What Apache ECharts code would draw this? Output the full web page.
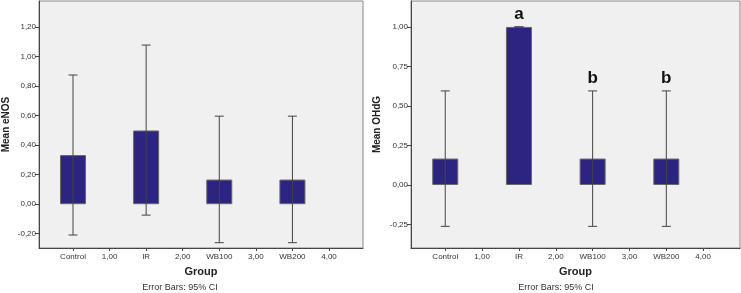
<!DOCTYPE html>
<html>
<head>
<meta charset="utf-8">
<script src="https://cdn.jsdelivr.net/npm/echarts@6/dist/echarts.min.js"></script>
<style>
  html, body { margin: 0; padding: 0; background: #fff; }
  #chart { width: 741px; height: 293px; }
</style>
</head>
<body>
<div id="chart"></div>
<script>
// x-axis labels, slots 0..7
var groupLabels = ['Control', '1,00', 'IR', '2,00', 'WB100', '3,00', 'WB200', '4,00'];
var barX = [0, 2, 4, 6];

// eNOS panel
var enosMean = [0.333, 0.50, 0.167, 0.167];
var enosLow = [-0.209, -0.074, -0.261, -0.261];
var enosHigh = [0.876, 1.079, 0.597, 0.597];
var enosTicks = [-0.2, 0, 0.2, 0.4, 0.6, 0.8, 1.0, 1.2];

// OHdG panel
var ohdgMean = [0.167, 1.0, 0.167, 0.167];
var ohdgLow = [-0.262, 1.0, -0.262, -0.262];
var ohdgHigh = [0.595, 1.0, 0.595, 0.595];
var ohdgLetters = ['', 'a', 'b', 'b'];
var ohdgTicks = [-0.25, 0, 0.25, 0.5, 0.75, 1.0];

var myChart = echarts.init(document.getElementById('chart'));

function fmt(v) {
    return v.toFixed(2).replace('.', ',');
}

function xAxisOpt(idx, max) {
    return {
        type: 'value',
        gridIndex: idx,
        min: -0.93,
        max: max,
        name: 'Group',
        nameLocation: 'middle',
        nameGap: 18,
        nameTextStyle: { fontFamily: 'Liberation Sans', fontWeight: 'bold', fontSize: 11, color: '#222' },
        splitLine: { show: false },
        axisLine: { show: true, onZero: false, lineStyle: { color: '#444', width: 1 } },
        axisTick: { show: true, length: 3, customValues: [0, 1, 2, 3, 4, 5, 6, 7], lineStyle: { color: '#444' } },
        axisLabel: {
            customValues: [0, 1, 2, 3, 4, 5, 6, 7],
            formatter: function (v) { return groupLabels[Math.round(v)]; },
            fontFamily: 'Liberation Sans', fontSize: 8, color: '#333', margin: 5
        }
    };
}

function yAxisOpt(idx, min, max, ticks, name, gap) {
    return {
        type: 'value',
        gridIndex: idx,
        min: min,
        max: max,
        name: name,
        nameLocation: 'middle',
        nameGap: gap,
        nameTextStyle: { fontFamily: 'Liberation Sans', fontWeight: 'bold', fontSize: 10, color: '#222' },
        splitLine: { show: false },
        axisLine: { show: true, onZero: false, lineStyle: { color: '#444', width: 1 } },
        axisTick: { show: true, length: 4, customValues: ticks, lineStyle: { color: '#444' } },
        axisLabel: {
            customValues: ticks,
            formatter: fmt,
            fontFamily: 'Liberation Sans', fontSize: 8, color: '#333', margin: 3
        }
    };
}

function barData(mean) {
    var d = [];
    for (let i = 0; i < mean.length; i++) {
        d.push([barX[i], mean[i]]);
    }
    return d;
}

function errData(low, high, letters) {
    var d = [];
    for (let i = 0; i < low.length; i++) {
        d.push([barX[i], low[i], high[i], letters ? letters[i] : '']);
    }
    return d;
}

function renderErr(params, api) {
    var x = api.value(0);
    var lo = api.coord([x, api.value(1)]);
    var hi = api.coord([x, api.value(2)]);
    var cap = 4.5;
    var style = { stroke: '#444', lineWidth: 1 };
    var children = [
        { type: 'line', shape: { x1: lo[0], y1: lo[1], x2: hi[0], y2: hi[1] }, style: style },
        { type: 'line', shape: { x1: lo[0] - cap, y1: lo[1], x2: lo[0] + cap, y2: lo[1] }, style: style },
        { type: 'line', shape: { x1: hi[0] - cap, y1: hi[1], x2: hi[0] + cap, y2: hi[1] }, style: style }
    ];
    var letter = api.value(3);
    if (letter) {
        children.push({
            type: 'text',
            style: {
                text: letter, x: hi[0], y: hi[1] - 4,
                align: 'center', verticalAlign: 'bottom',
                font: 'bold 17px "Liberation Sans"', fill: '#111'
            }
        });
    }
    return { type: 'group', children: children };
}

var barStyle = { color: '#2c2480', borderColor: '#666', borderWidth: 1 };

option = {
    animation: false,
    grid: [
        { left: 34, top: 1, width: 329, height: 247, show: true, backgroundColor: '#f0f0f0', borderColor: '#888', borderWidth: 1 },
        { left: 411, top: 1, width: 329, height: 247, show: true, backgroundColor: '#f0f0f0', borderColor: '#888', borderWidth: 1 }
    ],
    xAxis: [xAxisOpt(0, 7.93), xAxisOpt(1, 8.0)],
    yAxis: [
        yAxisOpt(0, -0.297, 1.378, enosTicks, 'Mean eNOS', 28),
        yAxisOpt(1, -0.399, 1.164, ohdgTicks, 'Mean OHdG', 29)
    ],
    graphic: [
        { type: 'text', x: 180, y: 288, style: { text: 'Error Bars: 95% CI', x: 0, y: 0, align: 'center', verticalAlign: 'middle', font: '9px "Liberation Sans"', fill: '#333' } },
        { type: 'text', x: 556, y: 288, style: { text: 'Error Bars: 95% CI', x: 0, y: 0, align: 'center', verticalAlign: 'middle', font: '9px "Liberation Sans"', fill: '#333' } }
    ],
    series: [
        { type: 'bar', xAxisIndex: 0, yAxisIndex: 0, barWidth: 26, itemStyle: barStyle, data: barData(enosMean) },
        { type: 'custom', xAxisIndex: 0, yAxisIndex: 0, renderItem: renderErr, data: errData(enosLow, enosHigh), z: 5 },
        { type: 'bar', xAxisIndex: 1, yAxisIndex: 1, barWidth: 26, itemStyle: barStyle, data: barData(ohdgMean) },
        { type: 'custom', xAxisIndex: 1, yAxisIndex: 1, renderItem: renderErr, data: errData(ohdgLow, ohdgHigh, ohdgLetters), z: 5 }
    ]
};
myChart.setOption(option);
</script>
</body>
</html>
